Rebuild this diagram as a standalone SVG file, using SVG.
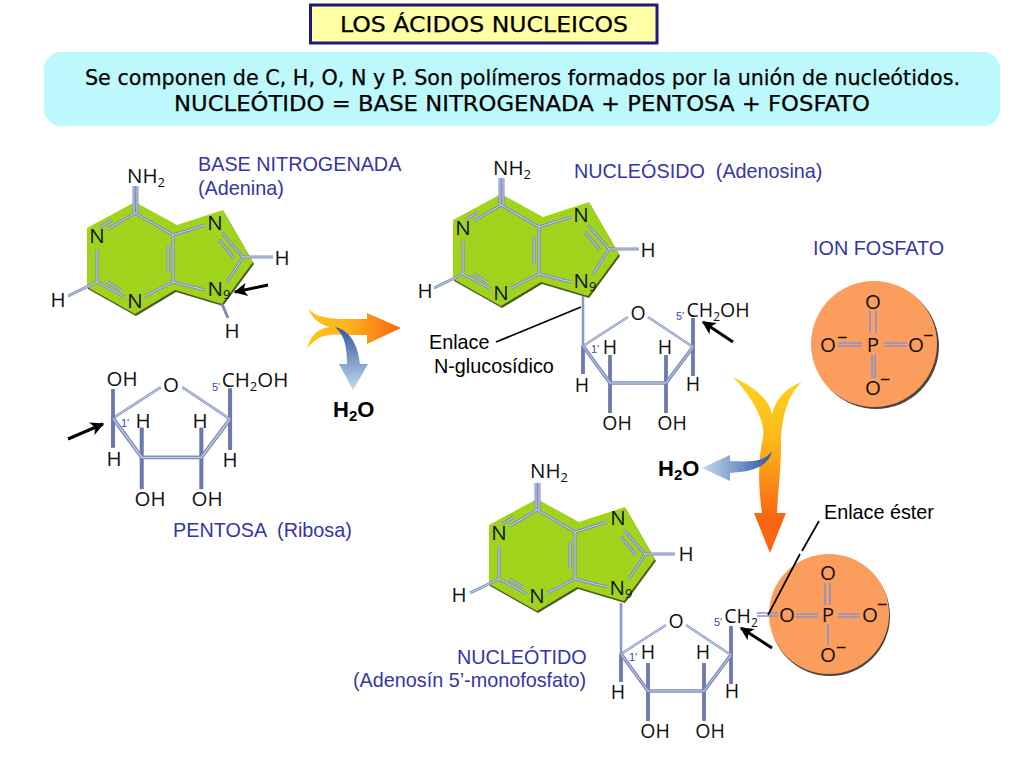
<svg xmlns="http://www.w3.org/2000/svg" width="1024" height="768" viewBox="0 0 1024 768">
<style>
text{white-space:pre}
.title{font-family:"DejaVu Sans",sans-serif;fill:#000;stroke:#000;stroke-width:.25}
.lb{font-family:"Liberation Sans",Arial,sans-serif;font-size:19.800px;fill:#3535a8}
.lk{font-family:"Liberation Sans",Arial,sans-serif;font-size:19.800px;fill:#000}
.ch{font-family:"Open Sans",sans-serif;font-size:20.500px;fill:#111;text-anchor:middle}
.cs{font-family:"Open Sans",sans-serif;font-size:19.500px;fill:#111;text-anchor:middle}
.wa{font-family:"Liberation Sans",Arial,sans-serif;font-size:22px;font-weight:bold;fill:#000}
.pr{font-family:"Liberation Sans",Arial,sans-serif;font-size:11px;fill:#3b4a9a;text-anchor:middle}
.bo{fill:none;stroke:#7f8bbb;stroke-width:3}
.bi{fill:none;stroke:#c9d4ea;stroke-width:1}
.tk{fill:none;stroke:#7f8bbb;stroke-width:3.600}
.tv{fill:none;stroke:#6d79ae;stroke-width:3.800}
.th{fill:none;stroke:#cbd5ea;stroke-width:1}
.tn{fill:none;stroke:#8c97c6;stroke-width:2.600}
.tl{fill:none;stroke:#d0d9ec;stroke-width:.9}
.pb{fill:none;stroke:#8a92cc;stroke-width:1.700}
.ln{fill:none;stroke:#000;stroke-width:1.700}
.ar{fill:none;stroke:#000;stroke-width:3;marker-end:url(#ah)}
</style>
<defs>
<marker id="ah" viewBox="0 0 10 10" refX="9" refY="5" markerWidth="5.500" markerHeight="4.500" markerUnits="strokeWidth" orient="auto"><path d="M0,0L10,5L0,10L2.500,5Z" fill="#000"/></marker>
<linearGradient id="gH" x1="0" x2="1" y1="0" y2="0"><stop offset="0" stop-color="#fec619"/><stop offset=".45" stop-color="#fdb11e"/><stop offset="1" stop-color="#f9660f"/></linearGradient>
<linearGradient id="gV" x1="0" x2="0" y1="0" y2="1"><stop offset="0" stop-color="#fdd31c"/><stop offset=".35" stop-color="#fcb91c"/><stop offset=".8" stop-color="#f9660f"/><stop offset="1" stop-color="#f9660f"/></linearGradient>
<linearGradient id="bD" x1="0" x2="0" y1="0" y2="1"><stop offset="0" stop-color="#31569f"/><stop offset="1" stop-color="#c3dcee"/></linearGradient>
<linearGradient id="bL" x1="1" x2="0" y1="0" y2="0"><stop offset="0" stop-color="#2f55a2"/><stop offset="1" stop-color="#c3dcee"/></linearGradient>
<polygon id="adShape" points="135,202 177,225 223,210 253,262 222,304 175,290 135,314 87,287 87,228"/>
<path id="adBonds" d="M134,186V213M137,186V213M135,213L108,229M112,220L100,227M135,213L173,235M97,249V282M97,282L68,296M97,282L125,297M107,282L121,290M145,296L173,282M173,235V282M168,245V272M173,235L205,225M173,282L205,290M222,233L243,257M219,240L234,258M243,257L227,282M243,257H273"/>
<path id="rbRing" d="M583,346L610,383H666L693,347"/>
<path id="rbVert" d="M583,346V374M610,355V413M666,355V413M693,318V376"/>
<path id="rbThin" d="M583,346L628,317M648,317L693,347"/>
</defs>

<g id="title">
<rect x="310.500" y="5" width="346.500" height="38" fill="#ffffa6" stroke="#1c1c78" stroke-width="3"/>
<text class="title" x="340" y="32" font-size="22" textLength="288" lengthAdjust="spacingAndGlyphs">LOS ÁCIDOS NUCLEICOS</text>
</g>
<g id="summary">
<rect x="44" y="52" width="956" height="74" rx="17" fill="#bdf8fc"/>
<text class="title" x="85" y="85" font-size="22" textLength="875" lengthAdjust="spacingAndGlyphs">Se componen de C, H, O, N y P. Son polímeros formados por la unión de nucleótidos.</text>
<text class="title" x="174" y="111" font-size="22" textLength="696" lengthAdjust="spacingAndGlyphs">NUCLEÓTIDO = BASE NITROGENADA + PENTOSA + FOSFATO</text>
</g>

<g id="adenina">
<use href="#adShape" transform="translate(1,2)" fill="#4d5a24"/><use href="#adShape" fill="#a0d41c"/>
<use href="#adBonds" class="bo"/><use href="#adBonds" class="bi"/>
<path class="bo" d="M222,304L228,318"/>
<text class="ch" x="146" y="183">NH<tspan font-size="13" dy="4">2</tspan></text>
<text class="ch" x="97" y="243">N</text><text class="ch" x="135" y="308">N</text><text class="ch" x="215" y="230">N</text>
<text class="ch" x="219" y="296">N<tspan font-size="13" dy="3">9</tspan></text>
<text class="ch" x="282" y="265">H</text><text class="ch" x="58" y="307">H</text><text class="ch" x="232" y="338">H</text>
<path class="ar" d="M268,285L235,292"/>
</g>
<g id="label-base"><text class="lb" x="198" y="171">BASE NITROGENADA</text><text class="lb" x="198" y="195">(Adenina)</text></g>

<g id="pentosa">
<g transform="matrix(1.064 0 0 1.064 -507.300 49.900)"><use href="#rbVert" class="tv"/><use href="#rbRing" class="tk"/><use href="#rbRing" class="th"/><use href="#rbThin" class="tn"/><use href="#rbThin" class="tl"/></g>
<path class="tv" d="M113,389V418"/>
<text class="ch" x="122" y="386">OH</text><text class="ch" x="171" y="392">O</text>
<text class="ch" x="255" y="387">CH<tspan font-size="13" dy="4">2</tspan><tspan dy="-4">OH</tspan></text>
<text class="pr" x="216" y="391">5'</text><text class="pr" x="125" y="427">1'</text>
<text class="ch" x="143" y="428">H</text><text class="ch" x="200" y="428">H</text><text class="ch" x="114" y="466">H</text><text class="ch" x="230" y="467">H</text>
<text class="ch" x="150" y="506">OH</text><text class="ch" x="207" y="506">OH</text>
<path class="ar" d="M68,439L103,424"/>
</g>
<g id="label-pentosa"><text class="lb" x="173" y="537">PENTOSA  (Ribosa)</text></g>

<g id="arrow-reaction-1">
<path fill="url(#gH)" d="M308,307C312,317 330,319 345,319H367V313L401,328L367,344V335H342C325,333 315,338 307,349C310,336 318,328 330,327C320,325 311,318 308,307Z"/>
<path fill="url(#bD)" d="M335,327C350,330 358,345 360,364H368L353,390L339,364H347C347,348 345,335 335,327Z"/>
</g>
<text id="water-1" class="wa" x="333" y="417">H<tspan font-size="15" dy="4">2</tspan><tspan dy="-4">O</tspan></text>

<g id="nucleosido">
<g transform="translate(366,-8)"><use href="#adShape" transform="translate(1,2)" fill="#4d5a24"/><use href="#adShape" fill="#a0d41c"/><use href="#adBonds" class="bo"/><use href="#adBonds" class="bi"/></g>
<text class="ch" x="512" y="175">NH<tspan font-size="13" dy="4">2</tspan></text>
<text class="ch" x="463" y="235">N</text><text class="ch" x="501" y="300">N</text><text class="ch" x="581" y="222">N</text>
<text class="ch" x="585" y="288">N<tspan font-size="13" dy="3">9</tspan></text>
<text class="ch" x="648" y="257">H</text><text class="ch" x="425" y="298">H</text>
<use href="#rbVert" class="tv"/><use href="#rbRing" class="tk"/><use href="#rbRing" class="th"/><use href="#rbThin" class="tn"/><use href="#rbThin" class="tl"/>
<path class="tn" d="M583,296V346"/>
<text class="cs" x="638" y="320">O</text>
<text class="cs" x="718" y="317">CH<tspan font-size="12" dy="4">2</tspan><tspan dy="-4">OH</tspan></text>
<text class="pr" x="680" y="320">5'</text><text class="pr" x="595" y="353">1'</text>
<text class="cs" x="610" y="354">H</text><text class="cs" x="665" y="354">H</text><text class="cs" x="582" y="392">H</text><text class="cs" x="693" y="391">H</text>
<text class="cs" x="617" y="430">OH</text><text class="cs" x="672" y="430">OH</text>
<path class="ar" d="M733,342L703,322"/>
</g>
<g id="label-nucleosido"><text class="lb" x="574" y="178">NUCLEÓSIDO  (Adenosina)</text></g>
<g id="enlace-n"><path class="ln" d="M581,307L496,342"/><text class="lk" x="429" y="349">Enlace</text><text class="lk" x="434" y="373">N-glucosídico</text></g>

<g id="ion-fosfato">
<circle cx="876" cy="346" r="63" fill="#50443c"/><circle cx="874" cy="344" r="63" fill="#fb9d5c"/>
<path class="pb" d="M870,311V333M876,311V333M838,343H862M838,346H862M884,343H907M884,346H907M872,355V378M875,355V378"/>
<text class="ch" x="873" y="309">O</text><text class="ch" x="873" y="352">P</text><text class="ch" x="828" y="352">O</text><text class="ch" x="916" y="352">O</text><text class="ch" x="873" y="395">O</text>
<text class="ch" x="842" y="343">–</text><text class="ch" x="928" y="341">–</text><text class="ch" x="885" y="385">–</text>
</g>
<g id="label-ion"><text class="lb" x="813" y="255">ION FOSFATO</text></g>

<g id="arrow-reaction-2">
<path fill="url(#gV)" d="M733,377C750,385 770,398 772,415C775,400 785,388 802,382C787,395 781,420 781,445C781,470 778,490 777,513H786L770,553L754,513H762C758,485 758,460 763,437C766,420 750,395 733,377Z"/>
<path fill="url(#bL)" d="M772,451C765,462 750,462 730,461V455L702,468L730,481V473C750,472 768,468 772,451Z"/>
</g>
<text id="water-2" class="wa" x="658" y="476">H<tspan font-size="15" dy="4">2</tspan><tspan dy="-4">O</tspan></text>

<g id="nucleotido">
<g transform="translate(402,297)"><use href="#adShape" transform="translate(1,2)" fill="#4d5a24"/><use href="#adShape" fill="#a0d41c"/><use href="#adBonds" class="bo"/><use href="#adBonds" class="bi"/></g>
<text class="ch" x="549" y="478">NH<tspan font-size="13" dy="4">2</tspan></text>
<text class="ch" x="499" y="540">N</text><text class="ch" x="537" y="603">N</text><text class="ch" x="618" y="525">N</text>
<text class="ch" x="621" y="595">N<tspan font-size="13" dy="3">9</tspan></text>
<text class="ch" x="686" y="561">H</text><text class="ch" x="459" y="602">H</text>
<g transform="translate(38,308)"><use href="#rbVert" class="tv"/><use href="#rbRing" class="tk"/><use href="#rbRing" class="th"/><use href="#rbThin" class="tn"/><use href="#rbThin" class="tl"/></g>
<path class="tn" d="M621,603V654"/>
<text class="cs" x="676" y="628">O</text>
<text class="cs" x="741" y="623">CH<tspan font-size="12" dy="4">2</tspan></text>
<text class="pr" x="718" y="626">5'</text><text class="pr" x="633" y="661">1'</text>
<text class="cs" x="648" y="659">H</text><text class="cs" x="703" y="659">H</text><text class="cs" x="618" y="699">H</text><text class="cs" x="732" y="698">H</text>
<text class="cs" x="655" y="738">OH</text><text class="cs" x="710" y="738">OH</text>
<path class="ar" d="M772,648L741,628"/>
</g>
<g id="label-nucleotido"><text class="lb" x="457" y="664">NUCLEÓTIDO</text><text class="lb" x="353" y="687">(Adenosín 5’-monofosfato)</text></g>

<g id="fosfato-unido">
<circle cx="830" cy="616" r="60" fill="#50443c"/><circle cx="829" cy="614" r="60" fill="#fb9d5c"/>
<path class="pb" d="M757,613H778M757,616H778M796,614H818M796,617H818M838,614H860M838,617H860M825,583V605M830,583V605M828,624V645"/>
<text class="ch" x="787" y="622">O</text><text class="ch" x="828" y="622">P</text><text class="ch" x="870" y="622">O</text><text class="ch" x="828" y="662">O</text><text class="ch" x="828" y="580">O</text>
<text class="ch" x="882" y="610">–</text><text class="ch" x="841" y="653">–</text>
</g>
<g id="enlace-ester"><path class="ln" d="M819,521L802,551M800,554L768,615"/><text class="lk" x="824" y="519">Enlace éster</text></g>
</svg>
